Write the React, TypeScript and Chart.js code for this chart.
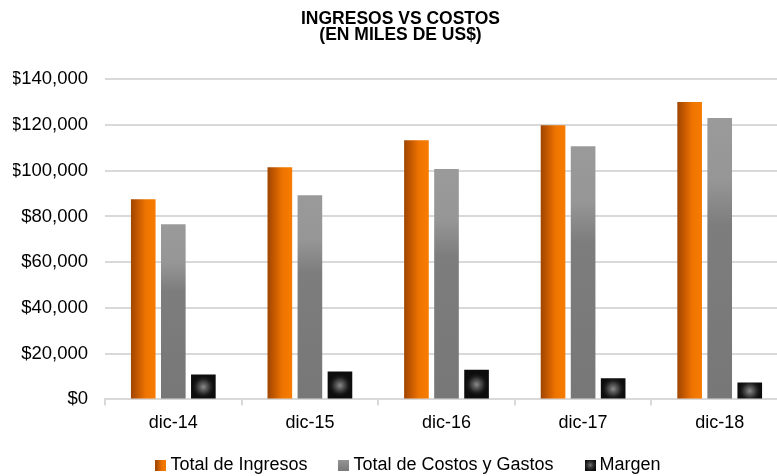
import React, { useEffect, useRef } from 'react';
import { Chart, registerables } from 'chart.js';

Chart.register(...registerables);

const categories = ['dic-14', 'dic-15', 'dic-16', 'dic-17', 'dic-18'];
const ingresos = [87500, 101500, 113300, 119900, 130000];
const costos = [76600, 89300, 100700, 110700, 123000];
const margen = [10900, 12200, 13000, 9200, 7400];
const seriesNames = ['Total de Ingresos', 'Total de Costos y Gastos', 'Margen'];
const titleLines = ['INGRESOS VS COSTOS', '(EN MILES DE US$)'];
const yMax = 140000;
const yStep = 20000;

const CAT_PCT = 0.66;
const BAR_PCT = 0.82;
const FONT = "'Liberation Sans', Arial, Helvetica, sans-serif";
const LEGEND_PAD = 36;

function barGeom(c: any) {
  const chart = c.chart;
  const xs = chart.scales?.x;
  const ys = chart.scales?.y;
  if (!chart.chartArea || !xs || !ys || c.dataIndex == null || c.raw == null) return null;
  const n = chart.data.labels.length;
  const nd = chart.data.datasets.length;
  const catW = (xs.right - xs.left) / n;
  const slot = (catW * CAT_PCT) / nd;
  const bw = slot * BAR_PCT;
  const cx = xs.getPixelForValue(c.dataIndex) + (c.datasetIndex - (nd - 1) / 2) * slot;
  const top = ys.getPixelForValue(c.raw);
  const base = ys.getPixelForValue(0);
  return { left: cx - bw / 2, right: cx + bw / 2, top, base, cx, bw };
}

function orangeFill(c: any) {
  const g = barGeom(c);
  if (!g) return '#F07800';
  const grad = c.chart.ctx.createLinearGradient(g.left, 0, g.right, 0);
  grad.addColorStop(0, '#9E4500');
  grad.addColorStop(0.3, '#C85A00');
  grad.addColorStop(0.6, '#EE7400');
  grad.addColorStop(1, '#F77C00');
  return grad;
}

function grayFill(c: any) {
  const g = barGeom(c);
  if (!g) return '#888888';
  const grad = c.chart.ctx.createLinearGradient(0, g.top, 0, g.base);
  grad.addColorStop(0, '#9a9a9a');
  grad.addColorStop(0.22, '#969696');
  grad.addColorStop(0.38, '#7d7d7d');
  grad.addColorStop(1, '#777777');
  return grad;
}

function blackFill(c: any) {
  const g = barGeom(c);
  if (!g) return '#111111';
  const cy = (g.top + g.base) / 2;
  const grad = c.chart.ctx.createRadialGradient(g.cx, cy, 0, g.cx, cy, 11);
  grad.addColorStop(0, '#8a8a8a');
  grad.addColorStop(0.35, '#555555');
  grad.addColorStop(0.75, '#1c1c1c');
  grad.addColorStop(1, '#0d0d0d');
  return grad;
}

function makeSwatch(kind: number) {
  const cv = document.createElement('canvas');
  cv.width = 11;
  cv.height = 11;
  const x = cv.getContext('2d')!;
  if (kind === 0) {
    const gr = x.createLinearGradient(0, 0, 11, 0);
    gr.addColorStop(0, '#9E4500');
    gr.addColorStop(0.6, '#EE7400');
    gr.addColorStop(1, '#F77C00');
    x.fillStyle = gr;
  } else if (kind === 1) {
    const gr = x.createLinearGradient(0, 0, 0, 11);
    gr.addColorStop(0, '#969696');
    gr.addColorStop(1, '#7a7a7a');
    x.fillStyle = gr;
  } else {
    const gr = x.createRadialGradient(5.5, 5.5, 0, 5.5, 5.5, 6);
    gr.addColorStop(0, '#7a7a7a');
    gr.addColorStop(0.5, '#333333');
    gr.addColorStop(1, '#0d0d0d');
    x.fillStyle = gr;
  }
  x.fillRect(0, 0, 11, 11);
  return cv;
}

export default function App() {
  const ref = useRef<HTMLCanvasElement | null>(null);

  useEffect(() => {
    if (!ref.current) return;
    Chart.defaults.font.family = FONT;
    Chart.defaults.color = '#000000';
    const swatches = [makeSwatch(0), makeSwatch(1), makeSwatch(2)];
    const solid = ['#F07800', '#888888', '#111111'];

    const legendShift = {
      id: 'legendShift',
      afterLayout(chart: any) {
        const l = chart.legend;
        if (l) {
          l.left += 10;
          l.right += 10;
          l.top = 465 - 9 - LEGEND_PAD;
          l.bottom = 476;
          l.height = l.bottom - l.top;
        }
      },
    };

    const chart = new Chart(ref.current, {
      type: 'bar',
      data: {
        labels: categories,
        datasets: [
          { label: seriesNames[0], data: ingresos, backgroundColor: orangeFill, borderWidth: 0 },
          { label: seriesNames[1], data: costos, backgroundColor: grayFill, borderWidth: 0 },
          { label: seriesNames[2], data: margen, backgroundColor: blackFill, borderWidth: 0 },
        ],
      },
      options: {
        responsive: false,
        animation: false,
        events: [],
        datasets: { bar: { categoryPercentage: CAT_PCT, barPercentage: BAR_PCT } },
        layout: { padding: { left: 13, right: 13, top: 0, bottom: 0 } },
        plugins: {
          tooltip: { enabled: false },
          title: {
            display: true,
            text: titleLines,
            color: '#000000',
            font: { family: FONT, size: 17.5, weight: 'bold', lineHeight: 0.92 },
            padding: { top: 11, bottom: 36 },
          },
          legend: {
            display: true,
            position: 'bottom',
            maxHeight: 35,
            labels: {
              color: '#000000',
              font: { family: FONT, size: 18 },
              usePointStyle: true,
              pointStyleWidth: 1,
              padding: LEGEND_PAD,
              generateLabels: () =>
                seriesNames.map((t, i) => ({
                  text: t,
                  fillStyle: solid[i],
                  strokeStyle: 'rgba(0,0,0,0)',
                  lineWidth: 0,
                  pointStyle: swatches[i] as any,
                  hidden: false,
                  datasetIndex: i,
                  fontColor: '#000000',
                })),
            },
          },
        },
        scales: {
          x: {
            type: 'category',
            offset: true,
            grid: {
              display: true,
              offset: true,
              drawOnChartArea: false,
              drawTicks: true,
              tickLength: 6,
              color: '#d9d9d9',
              lineWidth: 2,
            },
            border: { display: true, color: '#d9d9d9', width: 2 },
            ticks: { color: '#000000', font: { family: FONT, size: 18 }, padding: 7, maxRotation: 0 },
          },
          y: {
            min: 0,
            max: yMax,
            grid: { color: '#d9d9d9', lineWidth: 2, drawTicks: false },
            border: { display: false },
            ticks: {
              stepSize: yStep,
              color: '#000000',
              font: { family: FONT, size: 18.5 },
              padding: 17,
              callback: (v: any) => '$' + Number(v).toLocaleString('en-US'),
            },
            afterFit: (s: any) => {
              s.width = 92;
            },
          },
        },
      },
      plugins: [legendShift],
    } as any);

    return () => chart.destroy();
  }, []);

  return (
    <div
      style={{
        position: 'fixed',
        left: 0,
        top: 0,
        width: 777,
        height: 476,
        overflow: 'hidden',
        background: '#ffffff',
      }}
    >
      <canvas ref={ref} width={801} height={476} style={{ width: 801, height: 476, display: 'block' }} />
    </div>
  );
}
